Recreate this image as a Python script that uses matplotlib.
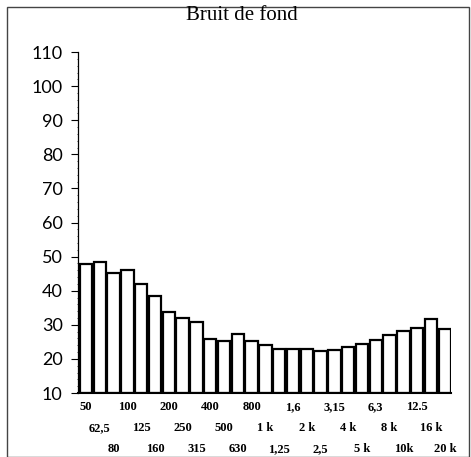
import matplotlib
matplotlib.use("Agg")
import matplotlib.pyplot as plt
from matplotlib.patches import Rectangle
import numpy as np

# third-octave bands, background noise level (dB)
bands = ["50", "62,5", "80", "100", "125", "160", "200", "250", "315",
         "400", "500", "630", "800", "1 k", "1,25", "1,6", "2 k", "2,5",
         "3,15", "4 k", "5 k", "6,3", "8 k", "10k", "12.5", "16 k", "20 k"]
levels = [47.7, 48.5, 45.2, 46.0, 42.1, 38.4, 33.9, 31.9, 30.9,
          25.8, 25.4, 27.2, 25.4, 24.0, 22.9, 22.9, 22.9, 22.2,
          22.7, 23.6, 24.3, 25.5, 27.1, 28.3, 29.1, 31.6, 28.7]
yticks = list(range(10, 111, 10))
title = "Bruit de fond"

fig = plt.figure(figsize=(4.71, 4.57), dpi=100)
ax = fig.add_axes([0.1656, 0.140, 0.792, 0.746])

x = np.arange(len(bands))
ax.bar(x, np.array(levels) - 10, bottom=10, width=0.9, color="white",
       edgecolor="black", linewidth=1.6)

ax.set_xlim(-0.58, len(bands) - 0.55)
ax.set_ylim(10, 110)
ax.set_yticks(yticks)
ax.set_yticklabels([str(v) for v in yticks], fontsize=13, family="Lato")
ax.set_yticks(np.arange(10, 111, 2), minor=True)
ax.tick_params(axis="y", which="major", length=5, width=0.8, direction="out", pad=6)
ax.tick_params(axis="y", which="minor", length=1, width=0.5, direction="out")
ax.set_xticks([])
for s in ["top", "right"]:
    ax.spines[s].set_visible(False)
ax.spines["left"].set_linewidth(0.9)
ax.spines["bottom"].set_linewidth(1.5)

# staggered band labels (three rows)
row_offsets = [-10, -25.2, -40.3]
for i, lab in enumerate(bands):
    ax.annotate(lab, xy=(x[i], 0), xycoords=("data", "axes fraction"),
                xytext=(0, row_offsets[i % 3]), textcoords="offset points",
                ha="center", va="center", fontsize=9, fontweight="bold",
                family="Liberation Serif")

fig.text(0.513, 0.966, title, ha="center", va="center", fontsize=15,
         family="Liberation Serif")

fig.patches.append(Rectangle((7 / 471, 0.5 / 457), 462 / 471, 449.5 / 457,
                             transform=fig.transFigure, fill=False,
                             edgecolor="#444444", linewidth=1.0))

fig.savefig("out.png", dpi=100)
